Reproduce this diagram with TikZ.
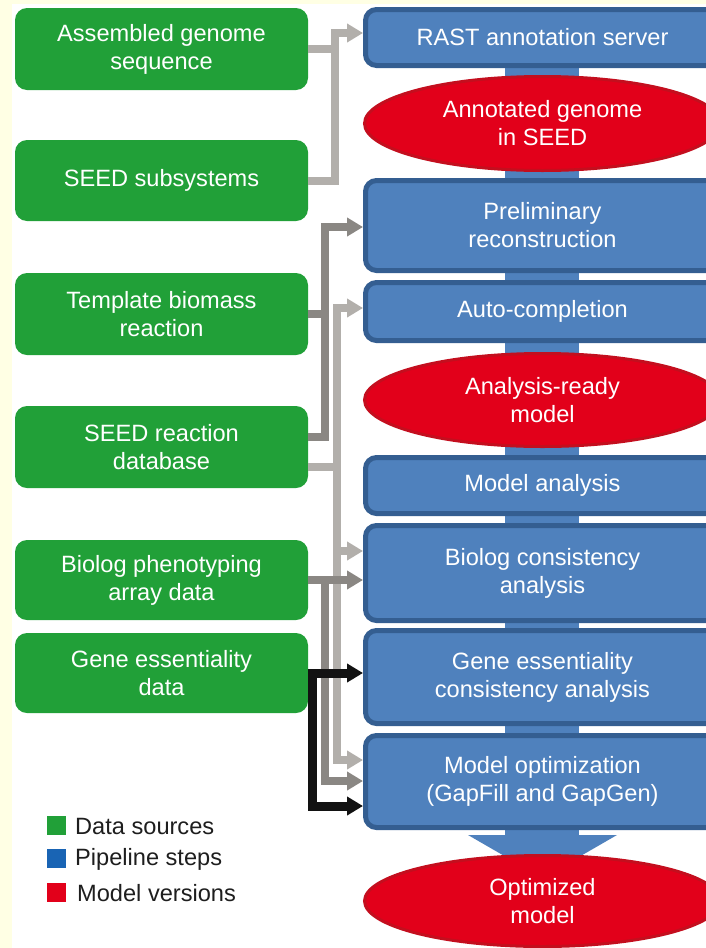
\documentclass[tikz,border=0pt]{standalone}
\usepackage{fontspec}
\setmainfont{Liberation Sans}
\usetikzlibrary{arrows.meta,shapes.geometric}

\definecolor{cream}{RGB}{255,255,228}
\definecolor{srcgreen}{RGB}{33,160,56}
\definecolor{stepblue}{RGB}{79,129,189}
\definecolor{stepedge}{RGB}{52,94,145}
\definecolor{modelred}{RGB}{226,0,26}
\definecolor{modeledge}{RGB}{196,14,30}
\definecolor{lightwire}{RGB}{178,175,171}
\definecolor{darkwire}{RGB}{138,135,131}
\definecolor{blackwire}{RGB}{18,18,18}
\definecolor{legendblue}{RGB}{25,100,180}
\definecolor{legendtext}{RGB}{30,30,30}

\begin{document}
\begin{tikzpicture}[x=1pt,y=-1pt,
  txt/.style={font=\fontsize{23.6}{28}\selectfont, align=center, text=white},
  source/.style={txt, fill=srcgreen, rounded corners=12pt, minimum width=293pt, inner sep=0pt},
  stepbox/.style={txt, fill=stepblue, draw=stepedge, line width=5pt, rounded corners=11pt,
                  minimum width=354pt, inner sep=0pt},
  version/.style={txt, ellipse, fill=modelred, draw=modeledge, line width=3pt,
                  minimum width=356pt, inner sep=0pt},
  wire/.style={line width=8pt},
  lwire/.style={wire, draw=lightwire},
  dwire/.style={wire, draw=darkwire},
  bwire/.style={wire, line width=9pt, draw=blackwire},
  feed/.style={-{Triangle[length=16pt,width=18pt]}},
  legendkey/.style={minimum size=19pt, inner sep=0pt},
  legendlabel/.style={font=\fontsize{23.6}{28}\selectfont, text=legendtext, anchor=west, inner sep=0pt}
]
\useasboundingbox (0,0) rectangle (706,948);
\clip (0,0) rectangle (706,948);

% page background
\fill[cream] (0,0) rectangle (706,948);
\fill[white] (12,4) rectangle (706,948);

% pipeline spine and final down arrow
\fill[stepblue] (505,40) rectangle (579,835);
\fill[stepblue] (468,835) -- (617,835) -- (542.5,878) -- cycle;

% pipeline steps and model versions
\node[stepbox, minimum height=56pt] (b1) at (542.5,37.5) {RAST annotation server};
\node[version, minimum height=94pt] (e1) at (542.5,123.5) {Annotated genome\\in SEED};
\node[stepbox, minimum height=90pt] (b2) at (542.5,225.5) {Preliminary\\reconstruction};
\node[stepbox, minimum height=58pt] (b3) at (542.5,311.5) {Auto-completion};
\node[version, minimum height=93pt] (e2) at (542.5,400) {Analysis-ready\\model};
\node[stepbox, minimum height=56pt] (b4) at (542.5,485.5) {Model analysis};
\node[stepbox, minimum height=95pt] (b5) at (542.5,573) {Biolog consistency\\analysis};
\node[stepbox, minimum height=93pt] (b6) at (542.5,677) {Gene essentiality\\consistency analysis};
\node[stepbox, minimum height=92pt] (b7) at (542.5,781.5) {Model optimization\\(GapFill and GapGen)};
\node[version, minimum height=91pt] (e3) at (542.5,901) {Optimized\\model};

% data sources
\node[source, minimum height=82pt] (g1) at (161.5,49) {Assembled genome\\sequence};
\node[source, minimum height=81pt] (g2) at (161.5,180.5) {SEED subsystems};
\node[source, minimum height=82pt] (g3) at (161.5,314) {Template biomass\\reaction};
\node[source, minimum height=82pt] (g4) at (161.5,447) {SEED reaction\\database};
\node[source, minimum height=80pt] (g5) at (161.5,580) {Biolog phenotyping\\array data};
\node[source, minimum height=80pt] (g6) at (161.5,673) {Gene essentiality\\data};

% bus corners
\coordinate (busA) at (335,33);
\coordinate (busD) at (325,227);
\coordinate (busL) at (337,308);
\coordinate (rowBL) at (337,551);
\coordinate (rowOL) at (337,760);
\coordinate (rowOD) at (325,781);
\coordinate (rowOB) at (312,806);

% light grey feeds
\draw[lwire] (g1.east) -- (g1.east -| busA);
\draw[lwire, feed] (g2.east) -| (busA) -- (busA -| b1.west);
\draw[lwire, feed] ([yshift=-20pt]g4.east) -| (busL) -- (busL -| b3.west);
\draw[lwire, feed] (busL) |- (rowOL -| b7.west);
\draw[lwire, feed] (rowBL) -- (rowBL -| b5.west);

% dark grey feeds
\draw[dwire] (g3.east) -- (g3.east -| busD);
\draw[dwire, feed] ([yshift=10pt]g4.east) -| (busD) -- (busD -| b2.west);
\draw[dwire, feed] (g5.east) -- (g5.east -| b5.west);
\draw[dwire, feed] (g5.east -| rowOD) |- (rowOD -| b7.west);

% black feeds
\draw[bwire, feed] (g6.east) -- (g6.east -| b6.west);
\draw[bwire, feed] (g6.east -| rowOB) |- (rowOB -| b7.west);

% legend
\node[legendkey, fill=srcgreen] (k1) at (56.5,825.5) {};
\node[legendkey, fill=legendblue] (k2) at (56.5,858.5) {};
\node[legendkey, fill=modelred] (k3) at (56.5,892.5) {};
\node[legendlabel] (t1) at (75,826) {Data sources};
\node[legendlabel] (t2) at (75,859) {Pipeline steps};
\node[legendlabel] (t3) at (77,893) {Model versions};
\end{tikzpicture}
\end{document}
